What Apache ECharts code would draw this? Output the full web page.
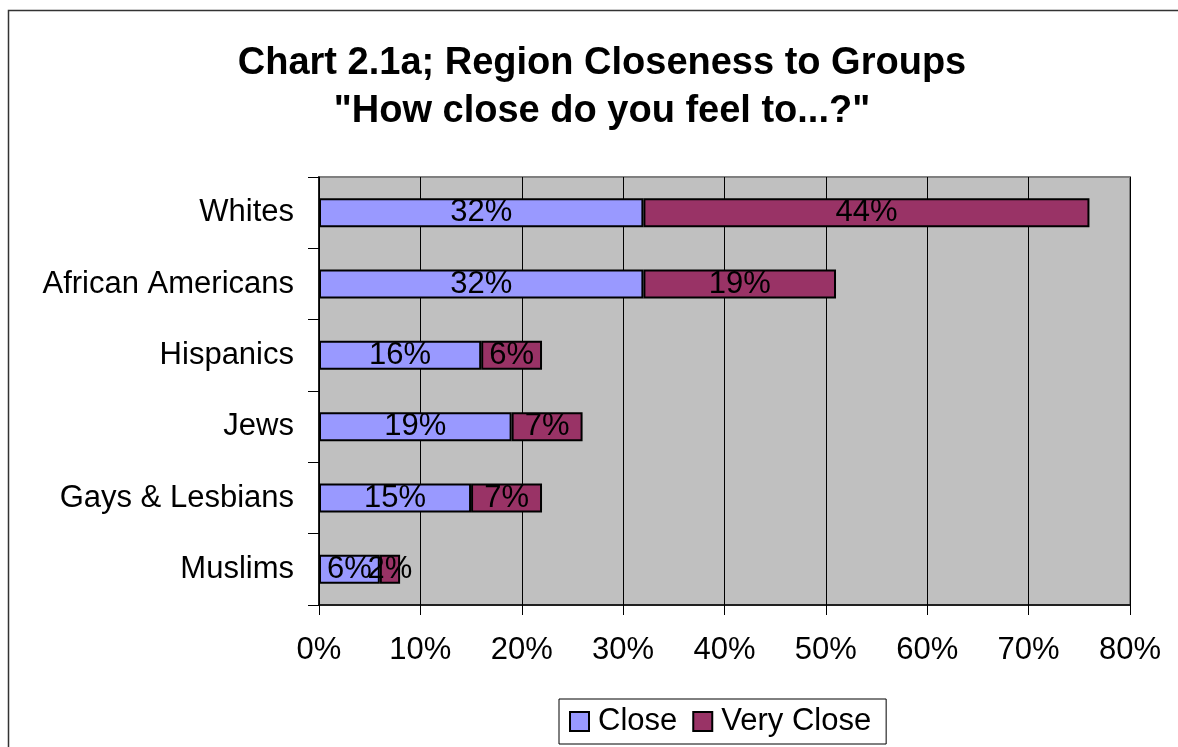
<!DOCTYPE html>
<html>
<head>
<meta charset="utf-8">
<style>
  html, body { margin: 0; padding: 0; background: #ffffff; }
  #chart { width: 1178px; height: 747px; }
</style>
<script src="https://cdn.jsdelivr.net/npm/echarts@6/dist/echarts.min.js"></script>
</head>
<body>
<div id="chart"></div>
<script>
// Groups asked about, top to bottom
const groups = ['Whites', 'African Americans', 'Hispanics', 'Jews', 'Gays & Lesbians', 'Muslims'];
// Share answering each closeness level (percent)
const closeValues = [32, 32, 16, 19, 15, 6];
const veryCloseValues = [44, 19, 6, 7, 7, 2];
// Horizontal axis ticks (percent)
const xTicks = [0, 10, 20, 30, 40, 50, 60, 70, 80];

const font = 'Arial, "Liberation Sans", Helvetica, sans-serif';

const chart = echarts.init(document.getElementById('chart'), null, { renderer: 'canvas' });

const barLabel = {
  show: true,
  position: 'inside',
  color: '#000',
  fontFamily: font,
  fontSize: 31,
  formatter: p => p.value + '%'
};

chart.setOption({
  animation: false,
  backgroundColor: '#ffffff',
  title: {
    text: 'Chart 2.1a; Region Closeness to Groups\n"How close do you feel to...?"',
    left: 597,
    top: 35,
    textAlign: 'center',
    textStyle: {
      fontFamily: font,
      fontSize: 38,
      fontWeight: 'bold',
      color: '#000',
      lineHeight: 48
    }
  },
  graphic: [{
    type: 'rect',
    shape: { x: 8.5, y: 10.5, width: 1200, height: 800 },
    style: { fill: 'none', stroke: '#333', lineWidth: 1.5 },
    silent: true
  }],
  legend: {
    left: 559,
    top: 699,
    data: ['Close', 'Very Close'],
    icon: 'rect',
    itemWidth: 19,
    itemHeight: 19,
    itemGap: 15,
    padding: [7, 15, 7, 10],
    borderColor: '#000',
    borderWidth: 1,
    backgroundColor: '#fff',
    textStyle: { fontFamily: font, fontSize: 31, color: '#000', padding: [0, 0, 0, 4] }
  },
  grid: {
    left: 319,
    right: 48,
    top: 177,
    bottom: 142,
    show: true,
    backgroundColor: '#c0c0c0',
    borderColor: '#808080',
    borderWidth: 2
  },
  xAxis: {
    type: 'value',
    min: xTicks[0],
    max: xTicks[xTicks.length - 1],
    interval: 10,
    axisLine: { show: true, lineStyle: { color: '#000', width: 1.5 } },
    axisTick: { show: true, length: 10, lineStyle: { color: '#000', width: 1 } },
    axisLabel: {
      margin: 30,
      color: '#000',
      fontFamily: font,
      fontSize: 31,
      formatter: v => v + '%'
    },
    splitLine: { show: true, lineStyle: { color: '#000', width: 1 } }
  },
  yAxis: {
    type: 'category',
    data: groups,
    inverse: true,
    axisLine: { show: true, lineStyle: { color: '#000', width: 1.5 } },
    axisTick: { show: true, length: 11, inside: false, lineStyle: { color: '#000', width: 1 } },
    axisLabel: {
      margin: 25,
      color: '#000',
      fontFamily: font,
      fontSize: 31
    },
    splitLine: { show: false }
  },
  series: [
    {
      name: 'Close',
      type: 'bar',
      stack: 'total',
      data: closeValues,
      barWidth: 29,
      itemStyle: { color: '#9999ff', borderColor: '#000', borderWidth: 2 },
      label: barLabel
    },
    {
      name: 'Very Close',
      type: 'bar',
      stack: 'total',
      data: veryCloseValues,
      barWidth: 29,
      itemStyle: { color: '#993366', borderColor: '#000', borderWidth: 2 },
      label: barLabel
    }
  ]
});
</script>
</body>
</html>
